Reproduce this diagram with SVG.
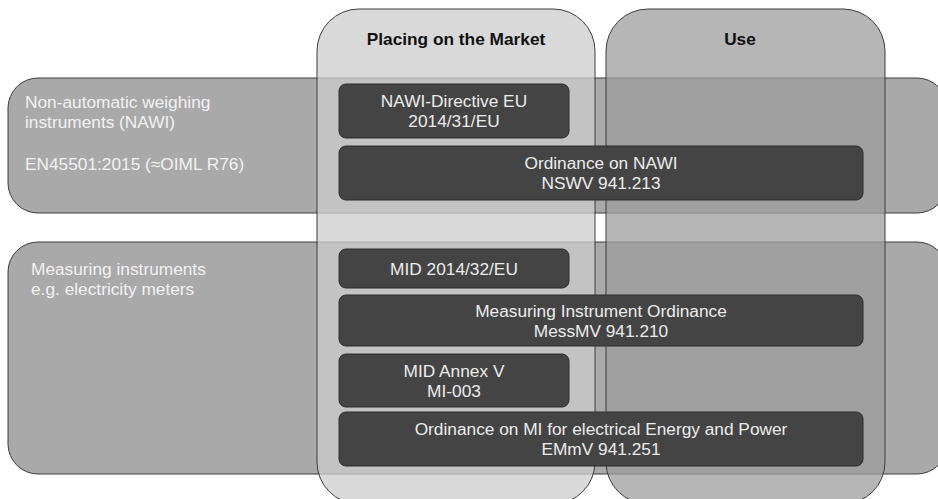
<svg xmlns="http://www.w3.org/2000/svg" width="938" height="499" viewBox="0 0 938 499">
  <style>
    .band { fill: #a9a9a9; stroke: #3c3c3c; stroke-width: 1; }
    .col1 { fill: #cccccc; fill-opacity: 0.75; stroke: #3c3c3c; stroke-width: 1; }
    .col2 { fill: #9d9d9d; fill-opacity: 0.75; stroke: #3c3c3c; stroke-width: 1; }
    .box { fill: #444444; stroke: #2c2c2c; stroke-width: 1; }
    .head { font-family: "Liberation Sans", Arial, sans-serif; font-size: 17.3px; font-weight: bold; fill: #111111; text-anchor: middle; }
    .btxt { font-family: "Liberation Sans", Arial, sans-serif; font-size: 17.3px; fill: #ececec; text-anchor: middle; }
    .ltxt { font-family: "Liberation Sans", Arial, sans-serif; font-size: 17.3px; fill: #f2f2f2; }
  </style>

  <!-- horizontal bands: instrument categories -->
  <g id="band-nawi">
    <rect class="band" x="8" y="78" width="939" height="135" rx="30"/>
    <text class="ltxt" x="25" y="108">Non-automatic weighing</text>
    <text class="ltxt" x="25" y="128">instruments (NAWI)</text>
    <text class="ltxt" x="25" y="170">EN45501:2015 (≈OIML R76)</text>
  </g>
  <g id="band-mi">
    <rect class="band" x="8" y="242" width="939" height="232" rx="30"/>
    <text class="ltxt" x="31" y="275">Measuring instruments</text>
    <text class="ltxt" x="31" y="295">e.g. electricity meters</text>
  </g>

  <!-- vertical columns: lifecycle phases -->
  <g id="col-market">
    <rect class="col1" x="317" y="9" width="278" height="495" rx="42"/>
    <text class="head" x="456" y="45">Placing on the Market</text>
  </g>
  <g id="col-use">
    <rect class="col2" x="606" y="9" width="279" height="495" rx="42"/>
    <text class="head" x="740" y="45">Use</text>
  </g>

  <!-- regulation boxes -->
  <g id="nawi-directive">
    <rect class="box" x="339" y="84" width="230" height="54" rx="7"/>
    <text class="btxt" x="454" y="107">NAWI-Directive EU</text>
    <text class="btxt" x="454" y="127">2014/31/EU</text>
  </g>
  <g id="nswv">
    <rect class="box" x="339" y="146" width="524" height="54" rx="7"/>
    <text class="btxt" x="601" y="169">Ordinance on NAWI</text>
    <text class="btxt" x="601" y="189">NSWV 941.213</text>
  </g>
  <g id="mid">
    <rect class="box" x="339" y="249" width="230" height="39" rx="7"/>
    <text class="btxt" x="454" y="275">MID 2014/32/EU</text>
  </g>
  <g id="messmv">
    <rect class="box" x="339" y="295" width="524" height="51" rx="7"/>
    <text class="btxt" x="601" y="317">Measuring Instrument Ordinance</text>
    <text class="btxt" x="601" y="337">MessMV 941.210</text>
  </g>
  <g id="mid-annex">
    <rect class="box" x="339" y="354" width="230" height="53" rx="7"/>
    <text class="btxt" x="454" y="377">MID Annex V</text>
    <text class="btxt" x="454" y="397">MI-003</text>
  </g>
  <g id="emmv">
    <rect class="box" x="339" y="412" width="524" height="54" rx="7"/>
    <text class="btxt" x="601" y="435">Ordinance on MI for electrical Energy and Power</text>
    <text class="btxt" x="601" y="455">EMmV 941.251</text>
  </g>

  <g id="connectors"/>
</svg>
